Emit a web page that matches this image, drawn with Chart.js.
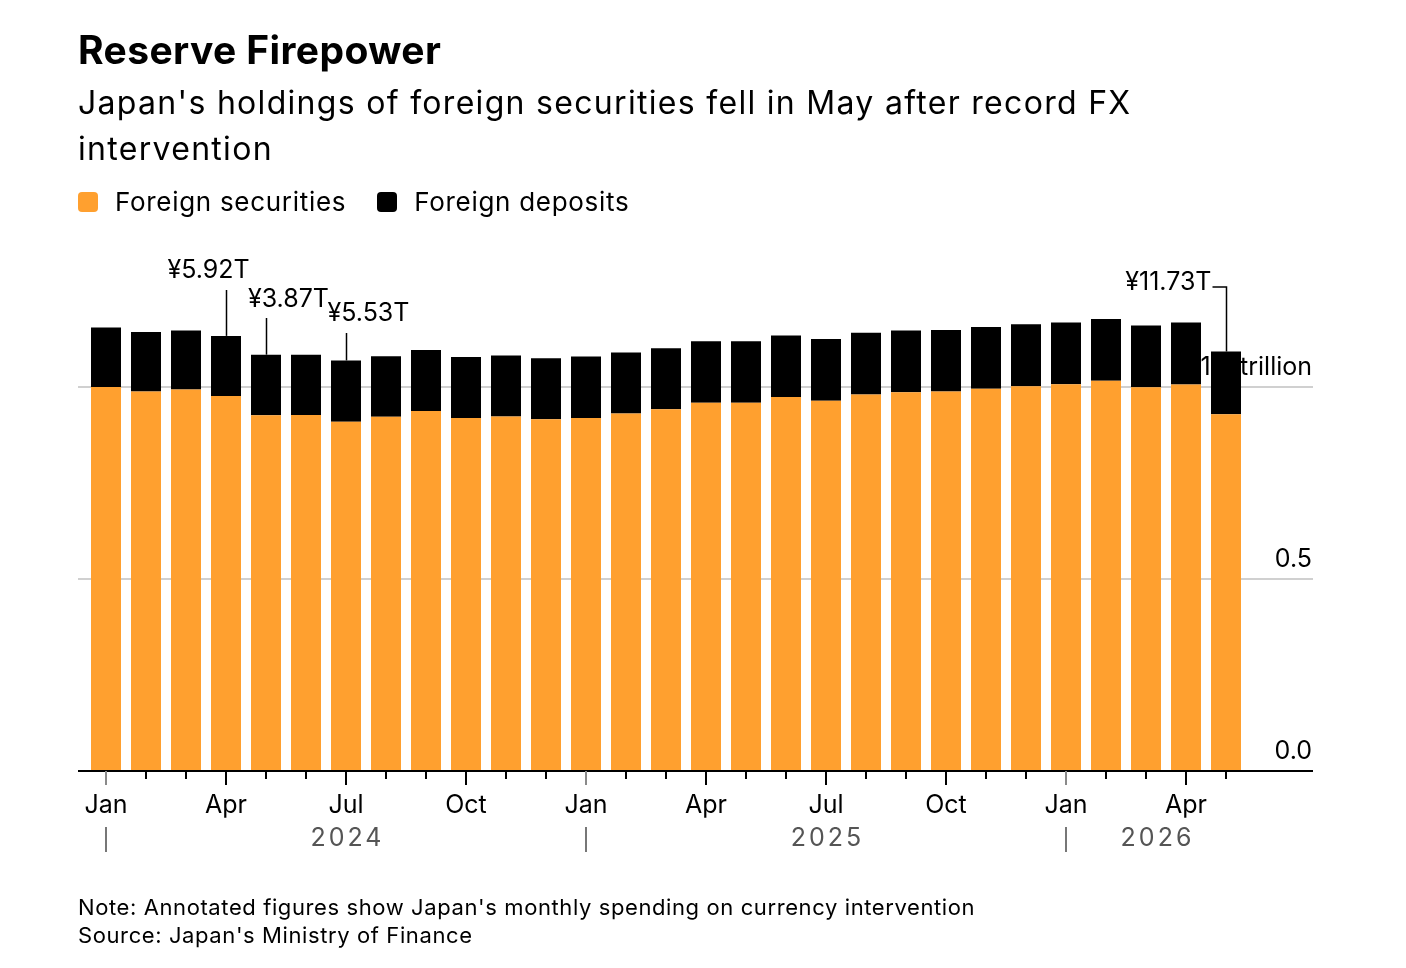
<!DOCTYPE html>
<html>
<head>
<meta charset="utf-8">
<script src="https://cdn.jsdelivr.net/npm/chart.js@4.4.1/dist/chart.umd.min.js"></script>
<style>
  body { margin: 0; background: #fff; color: #000; font-family: Inter, "Liberation Sans", sans-serif; }
  #wrap { position: relative; width: 1406px; height: 968px; overflow: hidden; }
  #chart { position: absolute; left: 0; top: 0; }
  .title { position: absolute; left: 78px; top: 26px; font-size: 39px; font-weight: 700; letter-spacing: 0.4px; }
  .sub { position: absolute; left: 78px; top: 80px; font-size: 32px; line-height: 46px; letter-spacing: 1.3px; }
  .legend { position: absolute; left: 78px; top: 186px; font-size: 26px; display: flex; align-items: center; letter-spacing: 0.7px; }
  .legend span.sw { width: 20px; height: 20px; border-radius: 4px; display: inline-block; margin-right: 17px; }
  .legend .item { display: flex; align-items: center; margin-right: 31px; }
  .foot { position: absolute; left: 78px; top: 893px; font-size: 22px; line-height: 28px; letter-spacing: 0.6px; }
</style>
</head>
<body>
<div id="wrap">
  <canvas id="chart" width="1406" height="968"></canvas>
  <div class="title">Reserve Firepower</div>
  <div class="sub">Japan's holdings of foreign securities fell in May after record FX<br>intervention</div>
  <div class="legend">
    <div class="item"><span class="sw" style="background:#ffa02f"></span>Foreign securities</div>
    <div class="item"><span class="sw" style="background:#000"></span>Foreign deposits</div>
  </div>
  <div class="foot">Note: Annotated figures show Japan's monthly spending on currency intervention<br>Source: Japan's Ministry of Finance</div>
</div>
<script>
// months Jan 2024 - May 2026
var months = ['2024-01','2024-02','2024-03','2024-04','2024-05','2024-06','2024-07','2024-08','2024-09','2024-10','2024-11','2024-12',
              '2025-01','2025-02','2025-03','2025-04','2025-05','2025-06','2025-07','2025-08','2025-09','2025-10','2025-11','2025-12',
              '2026-01','2026-02','2026-03','2026-04','2026-05'];

// trillions of dollars
var securities = [1.001, 0.989, 0.994, 0.977, 0.927, 0.928, 0.910, 0.923, 0.938, 0.920, 0.924, 0.917,
                  0.920, 0.932, 0.943, 0.960, 0.960, 0.975, 0.965, 0.981, 0.987, 0.989, 0.996, 1.003,
                  1.008, 1.017, 1.000, 1.007, 0.930];
var deposits = [0.155, 0.155, 0.154, 0.157, 0.158, 0.157, 0.160, 0.158, 0.159, 0.159, 0.159, 0.159,
                0.160, 0.159, 0.159, 0.160, 0.160, 0.160, 0.161, 0.161, 0.161, 0.160, 0.161, 0.161,
                0.161, 0.161, 0.161, 0.162, 0.163];

var monthNames = ['Jan','Feb','Mar','Apr','May','Jun','Jul','Aug','Sep','Oct','Nov','Dec'];
var yTicks = [0, 0.5, 1.0];
var yTickLabels = ['0.0', '0.5', '1.0 trillion'];
var years = ['2024', '2025', '2026'];

// monthly FX intervention
var interventionMonths = ['2024-04', '2024-05', '2024-07', '2026-05'];
var interventionLabels = ['¥5.92T', '¥3.87T', '¥5.53T', '¥11.73T'];

var FONT = 'Inter, "Liberation Sans", sans-serif';
var LEFT = 78, RIGHT = 1313;

var overlay = {
  id: 'overlay',
  beforeDatasetsDraw: function(chart) {
    var ctx = chart.ctx, y = chart.scales.y;
    ctx.save();
    yTicks.forEach(function(v, i) {
      var py = Math.round(y.getPixelForValue(v));
      if (v > 0) {
        ctx.strokeStyle = '#d0d0d0';
        ctx.lineWidth = 2;
        ctx.beginPath(); ctx.moveTo(LEFT, py); ctx.lineTo(RIGHT, py); ctx.stroke();
      }
      ctx.fillStyle = '#000';
      ctx.font = '25px ' + FONT;
      ctx.textAlign = 'right';
      ctx.textBaseline = 'alphabetic';
      ctx.fillText(yTickLabels[i], RIGHT - 1, py - 12);
    });
    ctx.restore();
  },
  afterDatasetsDraw: function(chart) {
    var ctx = chart.ctx, x = chart.scales.x, y = chart.scales.y;
    var y0 = Math.round(y.getPixelForValue(0));
    ctx.save();
    // axis line
    ctx.strokeStyle = '#000';
    ctx.lineWidth = 2;
    ctx.beginPath(); ctx.moveTo(LEFT, y0); ctx.lineTo(RIGHT, y0); ctx.stroke();

    // month ticks + labels
    months.forEach(function(m, i) {
      var px = Math.round(x.getPixelForValue(i));
      var mi = parseInt(m.slice(5), 10) - 1;
      var quarter = mi % 3 === 0;
      ctx.strokeStyle = mi === 0 ? '#8a8a8a' : '#000';
      ctx.lineWidth = 2;
      ctx.beginPath(); ctx.moveTo(px, y0); ctx.lineTo(px, y0 + (quarter ? 14 : 8)); ctx.stroke();
      if (quarter) {
        ctx.fillStyle = '#000';
        ctx.font = '25px ' + FONT;
        ctx.textAlign = 'center';
        ctx.textBaseline = 'middle';
        ctx.fillText(monthNames[mi], px, 805);
      }
      if (mi === 0) {
        ctx.strokeStyle = '#777';
        ctx.beginPath(); ctx.moveTo(px, 827); ctx.lineTo(px, 852); ctx.stroke();
      }
    });

    // year labels
    var yearPos = [6, 18, 26.25];
    ctx.fillStyle = '#555';
    ctx.font = '25px ' + FONT;
    ctx.textAlign = 'center';
    ctx.textBaseline = 'middle';
    ctx.letterSpacing = '3px';
    years.forEach(function(yr, i) {
      var i0 = Math.floor(yearPos[i]);
      var px = x.getPixelForValue(i0) + (yearPos[i] - i0) * (x.getPixelForValue(1) - x.getPixelForValue(0));
      ctx.fillText(yr, px + 1.5, 838);
    });
    ctx.letterSpacing = '0px';

    // intervention annotations
    var meta = chart.getDatasetMeta(1);
    var textOffsets = [[-18, 270, 290], [22, 299, 318], [22, 313, 333], [null, 282, 287]];
    ctx.font = '25px ' + FONT;
    ctx.fillStyle = '#000';
    ctx.strokeStyle = '#000';
    ctx.lineWidth = 1.5;
    interventionMonths.forEach(function(m, k) {
      var i = months.indexOf(m);
      var bar = meta.data[i];
      var bx = Math.round(bar.x) + 0.5, top = bar.y;
      var off = textOffsets[k];
      ctx.textBaseline = 'middle';
      if (off[0] === null) {
        ctx.textAlign = 'right';
        ctx.fillText(interventionLabels[k], bx - 15, off[1]);
        ctx.beginPath(); ctx.moveTo(bx - 14, off[2]); ctx.lineTo(bx, off[2]); ctx.lineTo(bx, top); ctx.stroke();
      } else {
        ctx.textAlign = 'center';
        ctx.fillText(interventionLabels[k], bx + off[0], off[1]);
        ctx.beginPath(); ctx.moveTo(bx, off[2]); ctx.lineTo(bx, top); ctx.stroke();
      }
    });
    ctx.restore();
  }
};

new Chart(document.getElementById('chart'), {
  type: 'bar',
  data: {
    labels: months,
    datasets: [
      { label: 'Foreign securities', data: securities, backgroundColor: '#ffa02f', barPercentage: 0.75, categoryPercentage: 1 },
      { label: 'Foreign deposits', data: deposits, backgroundColor: '#000000', barPercentage: 0.75, categoryPercentage: 1 }
    ]
  },
  options: {
    responsive: false,
    animation: false,
    layout: { padding: { left: 86, right: 160, top: 253, bottom: 197 } },
    plugins: { legend: { display: false }, tooltip: { enabled: false } },
    scales: {
      x: { display: false, stacked: true, offset: true },
      y: { display: false, stacked: true, min: 0, max: 1.35 }
    }
  },
  plugins: [overlay]
});
</script>
</body>
</html>
